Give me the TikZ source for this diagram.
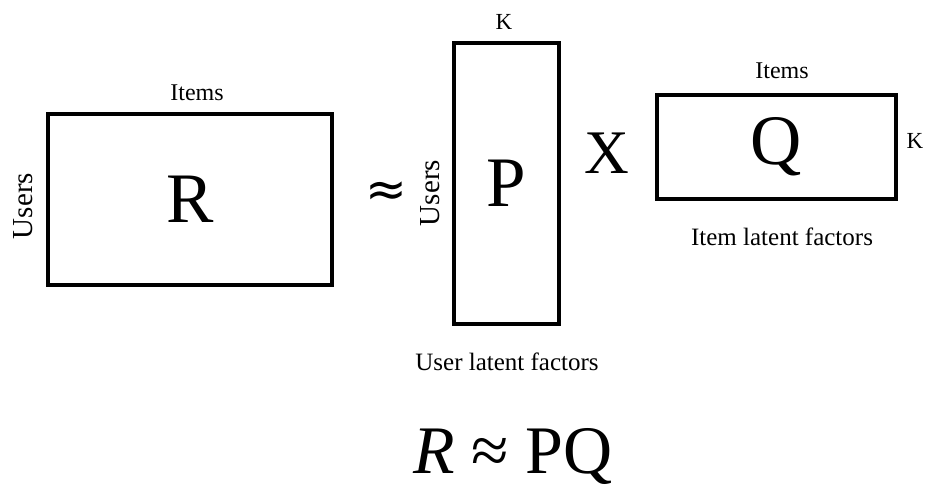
\documentclass[tikz,border=0pt]{standalone}
\usepackage{fontspec}
\setmainfont{Liberation Serif}
\newfontfamily\symfont{DejaVu Sans}
\begin{document}
\begin{tikzpicture}[x=1pt,y=-1pt,
  mat/.style={draw, line width=4pt, inner sep=0pt, font=\fontsize{71}{80}\selectfont},
  lab/.style={font=\fontsize{24}{28}\selectfont, inner sep=0pt, anchor=base},
  klab/.style={font=\fontsize{23}{28}\selectfont, inner sep=0pt, anchor=base},
  users/.style={font=\fontsize{29}{32}\selectfont, inner sep=0pt, rotate=90},
  caption/.style={font=\fontsize{25}{30}\selectfont, inner sep=0pt, anchor=base},
  op/.style={inner sep=0pt, anchor=base}]
\useasboundingbox (0,0) rectangle (929,487);
% operators
\node[inner sep=0pt, font=\symfont\fontsize{50}{60}\selectfont] (approx) at (386,194) {≈};
\node[op, font=\fontsize{62}{70}\selectfont] (times) at (607,173) {X};
% matrices
\node[mat, minimum width=284pt, minimum height=171pt] (R) at (190,199.5) {R};
\node[mat, minimum width=105pt, minimum height=280.5pt] (P) at (506.5,183.75) {P};
\node[mat, minimum width=239pt, minimum height=104pt] (Q) at (776.5,147) {Q};
% labels
\node[lab] (itemsR) at (197,100) {Items};
\node[lab] (itemsQ) at (782,78) {Items};
\node[klab] (kP) at (504,30) {K};
\node[klab] (kQ) at (915,148) {K};
\node[users] (usersR) at (23,206) {Users};
\node[users] (usersP) at (430,193) {Users};
\node[caption] (ulf) at (507,370) {User latent factors};
\node[caption] (ilf) at (782,245) {Item latent factors};
% equation
\node[op, font=\fontsize{68}{76}\selectfont] (eq) at (513,473) {\textit{R} ≈ PQ};
\end{tikzpicture}
\end{document}
